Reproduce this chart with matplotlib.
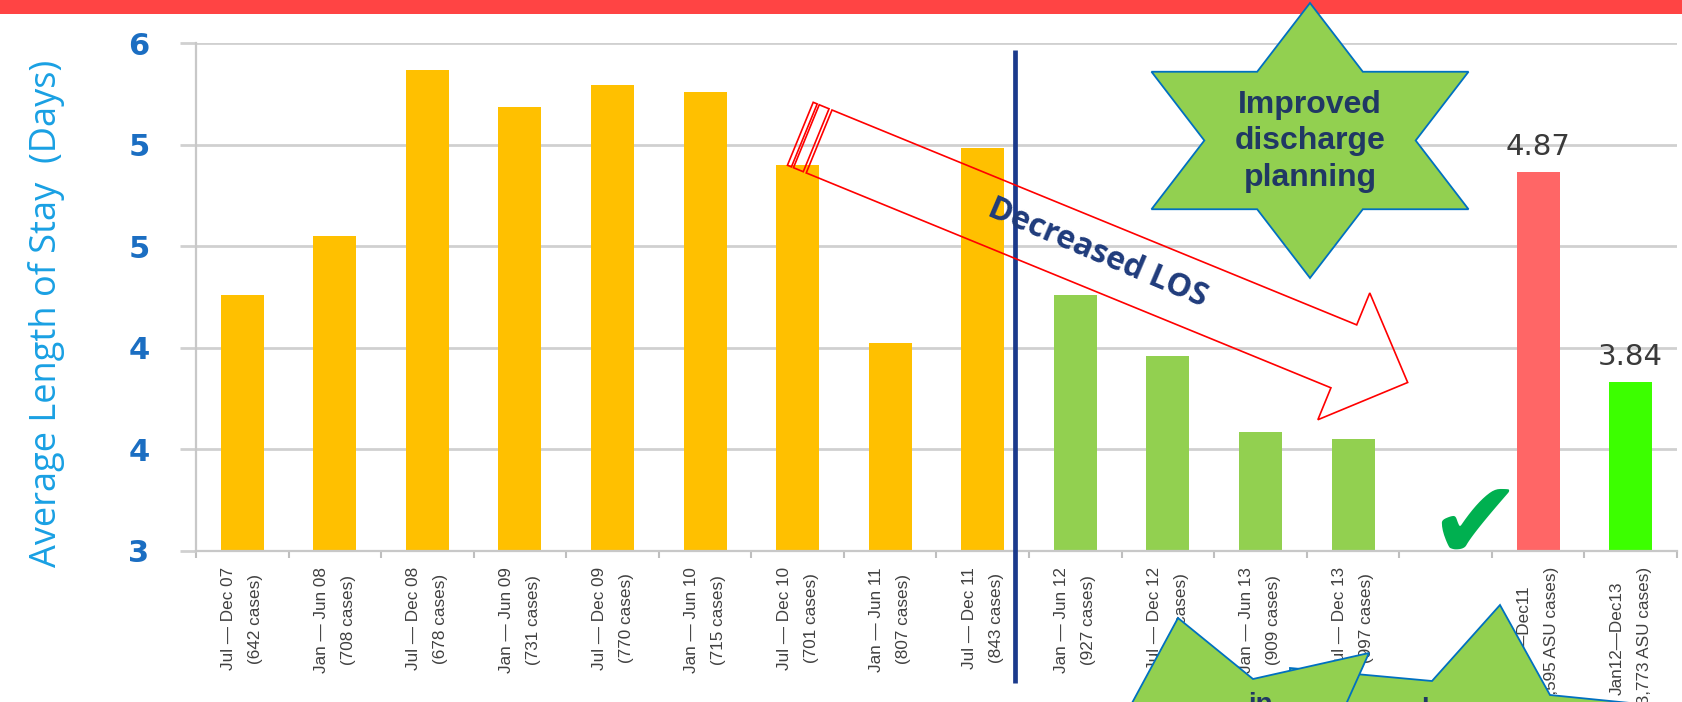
import numpy as np
import matplotlib
matplotlib.use("Agg")
import matplotlib.pyplot as plt
from matplotlib.patches import Polygon, Rectangle
from matplotlib.ticker import FixedLocator, FormatStrFormatter

# ---------------- data ----------------
period_labels = [
    "Jul — Dec 07\n(642 cases)",
    "Jan — Jun 08\n(708 cases)",
    "Jul — Dec 08\n(678 cases)",
    "Jan — Jun 09\n(731 cases)",
    "Jul — Dec 09\n(770 cases)",
    "Jan — Jun 10\n(715 cases)",
    "Jul — Dec 10\n(701 cases)",
    "Jan — Jun 11\n(807 cases)",
    "Jul — Dec 11\n(843 cases)",
    "Jan — Jun 12\n(927 cases)",
    "Jul — Dec 12\n(940 cases)",
    "Jan — Jun 13\n(909 cases)",
    "Jul — Dec 13\n(997 cases)",
    "",
    "Jul07—Dec11\n(6,595 ASU cases)",
    "Jan12—Dec13\n(3,773 ASU cases)",
]
los_days = [4.51, 4.86, 5.84, 5.62, 5.75, 5.71, 5.28, 4.23, 5.38,
            4.51, 4.15, 3.70, 3.66, None, 5.24, 4.00]
bar_colors = ["#FFC000"] * 9 + ["#92D050"] * 4 + [None, "#FF6666", "#3CFF00"]
value_labels = {14: "4.87", 15: "3.84"}
y_ticks = [3.0, 3.6, 4.2, 4.8, 5.4, 6.0]
y_limits = (3.0, 6.0)
divider_position = 8.35

# ---------------- figure ----------------
W, H = 1683, 702
fig = plt.figure(figsize=(W / 100, H / 100), dpi=100)
fig.patch.set_facecolor("white")


def fx(x):
    return x / W


def fy(y):
    return 1 - y / H


def P(pts):
    return [(fx(x), fy(y)) for x, y in pts]


ax = fig.add_axes([fx(196), fy(551), (1677 - 196) / W, 508 / H])

xs = [i for i, v in enumerate(los_days) if v is not None]
hs = [los_days[i] for i in xs]
cs = [bar_colors[i] for i in xs]
ax.bar(xs, [h - y_limits[0] for h in hs], bottom=y_limits[0], width=0.465,
       color=cs, zorder=2)

ax.set_xlim(-0.5, len(period_labels) - 0.5)
ax.set_ylim(*y_limits)

grid_c = "#D0D0D0"
ax.yaxis.set_major_locator(FixedLocator(y_ticks))
ax.yaxis.set_major_formatter(FormatStrFormatter("%.0f"))
ax.grid(axis="y", color=grid_c, linewidth=2.0, zorder=0)
ax.tick_params(axis="y", length=11.5, width=2.0, color=grid_c, pad=22,
               labelsize=22, labelcolor="#1B6EC2")
for t in ax.get_yticklabels():
    t.set_fontweight("bold")
    t.set_family("DejaVu Sans")

ax.set_xticks(range(len(period_labels)))
ax.set_xticklabels(period_labels, rotation=90, ha="center", va="top",
                   multialignment="center", linespacing=2.0,
                   family="Liberation Sans", fontsize=12.3, color="#404040")
ax.tick_params(axis="x", length=0, pad=11.5)
ax.set_xticks(np.arange(-0.5, len(period_labels), 1.0), minor=True)
ax.tick_params(axis="x", which="minor", length=5, width=1.5, color="#BFBFBF")

for s in ["top", "right"]:
    ax.spines[s].set_visible(False)
for s in ["left", "bottom"]:
    ax.spines[s].set_color("#C8C8C8")
    ax.spines[s].set_linewidth(1.6)

for i, txt in value_labels.items():
    ax.annotate(txt, xy=(i, los_days[i]), xytext=(0, 18),
                textcoords="offset points", ha="center", va="center",
                fontsize=21, color="#3A3A3A", family="DejaVu Sans")

# divider line
ax.plot([divider_position, divider_position], [0.986, -0.26],
        transform=ax.get_xaxis_transform(), color="#1B3A8C", linewidth=3.4,
        clip_on=False, zorder=5, solid_capstyle="butt")

# y label
fig.text(fx(47), fy(313), "Average Length of Stay  (Days)", rotation=90,
         ha="center", va="center", fontsize=26, family="Open Sans",
         color="#19A0E3")

# top red band
fig.add_artist(Rectangle((0, fy(14)), 1, 14 / H, transform=fig.transFigure,
                         facecolor="#FF4444", edgecolor="none", zorder=1))

# striped arrow (pixel geometry)
ox, oy = 832, 110
th = np.deg2rad(22.27)
u = np.array([np.cos(th), np.sin(th)])
n = np.array([-np.sin(th), np.cos(th)])


def A(s, m):
    p = np.array([ox, oy]) + s * u + m * n
    return (p[0], p[1])


arrow_pts = [A(0, 0), A(567, 0), A(567, -34.5), A(636, 34), A(567, 102.5),
             A(567, 68), A(0, 68)]
fig.add_artist(Polygon(P(arrow_pts), closed=True, fill=False,
                       edgecolor="#FF0000", linewidth=1.2,
                       transform=fig.transFigure, zorder=4))
for s0, s1 in [(-20.3, -16.0), (-13.8, -3.2)]:
    fig.add_artist(Polygon(P([A(s0, 0), A(s1, 0), A(s1, 68), A(s0, 68)]),
                           closed=True, fill=False, edgecolor="#FF0000",
                           linewidth=1.2, transform=fig.transFigure, zorder=4))
tx, ty = A(300, 32)
fig.text(fx(tx), fy(ty), "Decreased LOS", rotation=-23,
         rotation_mode="anchor", ha="center", va="center", fontsize=23,
         fontweight="bold", family="Open Sans", color="#1F3B7B", zorder=6)

# hexagram star
cx, cy, Ry, hh, Wd = 1310, 140.5, 137.5, 68.75, 158.5
star = [(0, -Ry), (Wd / 3, -hh), (Wd, -hh), (2 * Wd / 3, 0), (Wd, hh),
        (Wd / 3, hh), (0, Ry), (-Wd / 3, hh), (-Wd, hh), (-2 * Wd / 3, 0),
        (-Wd, -hh), (-Wd / 3, -hh)]
fig.add_artist(Polygon(P([(cx + a, cy + b) for a, b in star]), closed=True,
                       facecolor="#92D050", edgecolor="#0070C0",
                       linewidth=1.3, transform=fig.transFigure, zorder=4))
fig.text(fx(cx), fy(cy + 1), "Improved\ndischarge\nplanning", ha="center",
         va="center", multialignment="center", linespacing=1.3,
         fontsize=23, fontweight="bold", family="Liberation Sans",
         color="#203864", zorder=6)

# check mark
fig.text(fx(1475), fy(528), "\u2714", ha="center", va="center", fontsize=80,
         family="DejaVu Sans", color="#00B050", zorder=6)

# bottom green shapes (cropped)
shape2 = [(1290, 668), (1432, 681), (1500, 605), (1550, 695), (1720, 712),
          (1720, 760), (1290, 760)]
fig.add_artist(Polygon(P(shape2), closed=True, facecolor="#92D050",
                       edgecolor="#0070C0", linewidth=1.3,
                       transform=fig.transFigure, zorder=4))
shape1 = [(1112, 740), (1178, 618), (1253, 679), (1369, 653), (1330, 740)]
fig.add_artist(Polygon(P(shape1), closed=True, facecolor="#92D050",
                       edgecolor="#0070C0", linewidth=1.3,
                       transform=fig.transFigure, zorder=5))
fig.text(fx(1260), fy(692), "in", ha="center", va="top", fontsize=20,
         fontweight="bold", family="Liberation Sans", color="#203864",
         zorder=6)
fig.text(fx(1425), fy(697), "l", ha="center", va="top", fontsize=20,
         fontweight="bold", family="Liberation Sans", color="#203864",
         zorder=6)

fig.savefig("out.png", dpi=100, facecolor="white")
